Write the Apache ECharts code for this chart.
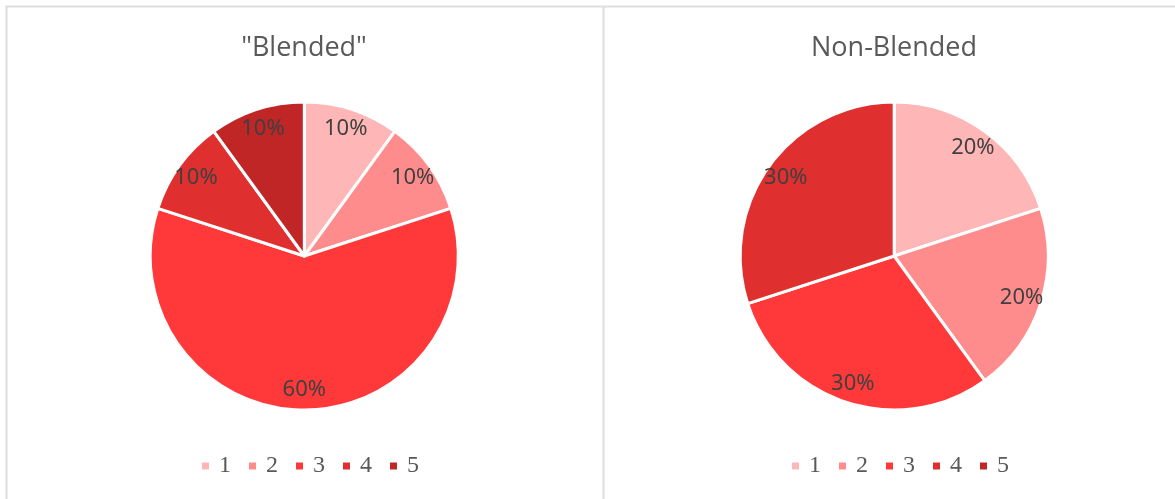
<!DOCTYPE html>
<html>
<head>
<meta charset="utf-8">
<script src="https://cdn.jsdelivr.net/npm/echarts@6/dist/echarts.min.js"></script>
<style>
html,body{margin:0;padding:0;background:#fff;}
#c{width:1175px;height:499px;}
</style>
</head>
<body>
<div id="c"></div>
<script>
const categories = ['1', '2', '3', '4', '5'];
const blendedValues = [10, 10, 60, 10, 10];
const nonBlendedValues = [20, 20, 30, 30];
const titles = ['"Blended"', 'Non-Blended'];
const colors = ['#FFB6B6', '#FF8C8C', '#FF3939', '#E02F2F', '#C02626'];

function toData(vals) {
  return vals.map((v, i) => ({ name: categories[i], value: v }));
}

const centers = [['25.9%', 256], ['76.1%', 256]];
const R = 154;

function pieSeries(vals, ci) {
  return [
    {
      type: 'pie',
      center: centers[ci],
      radius: [0, R],
      startAngle: 90,
      clockwise: true,
      label: { show: false },
      labelLine: { show: false },
      itemStyle: { borderColor: '#ffffff', borderWidth: 3 },
      emphasis: { scale: false },
      data: toData(vals)
    },
    {
      type: 'pie',
      center: centers[ci],
      radius: [R * 0.7, R],
      startAngle: 90,
      clockwise: true,
      silent: true,
      itemStyle: { color: 'rgba(0,0,0,0)' },
      label: {
        show: true,
        position: 'inside',
        formatter: '{d}%',
        fontFamily: 'Noto Sans',
        fontSize: 22,
        color: '#404040'
      },
      labelLine: { show: false },
      data: toData(vals)
    }
  ];
}

const chart = echarts.init(document.getElementById('c'));
chart.setOption({
  animation: false,
  color: colors,
  graphic: [
    { type: 'line', shape: { x1: 6, y1: 6.5, x2: 1175, y2: 6.5 }, style: { stroke: '#dedede', lineWidth: 2 } },
    { type: 'line', shape: { x1: 6.5, y1: 6, x2: 6.5, y2: 499 }, style: { stroke: '#dedede', lineWidth: 2 } },
    { type: 'line', shape: { x1: 603.5, y1: 6, x2: 603.5, y2: 499 }, style: { stroke: '#dedede', lineWidth: 2 } }
  ],
  title: [
    { text: titles[0], left: 299, top: 30, textAlign: 'center',
      textStyle: { fontFamily: 'Open Sans', fontWeight: 'normal', fontSize: 27, color: '#595959' } },
    { text: titles[1], left: 889, top: 30, textAlign: 'center',
      textStyle: { fontFamily: 'Open Sans', fontWeight: 'normal', fontSize: 27, color: '#595959' } }
  ],
  legend: [
    { data: categories, left: 195, top: 449, itemWidth: 9, itemHeight: 9, itemGap: 16, icon: 'rect',
      textStyle: { fontFamily: 'Liberation Serif', fontSize: 24, color: '#595959', padding: [0, 0, 0, 4] } },
    { data: categories, left: 785, top: 449, itemWidth: 9, itemHeight: 9, itemGap: 16, icon: 'rect',
      textStyle: { fontFamily: 'Liberation Serif', fontSize: 24, color: '#595959', padding: [0, 0, 0, 4] } }
  ],
  series: [...pieSeries(blendedValues, 0), ...pieSeries(nonBlendedValues, 1)]
});
</script>
</body>
</html>
